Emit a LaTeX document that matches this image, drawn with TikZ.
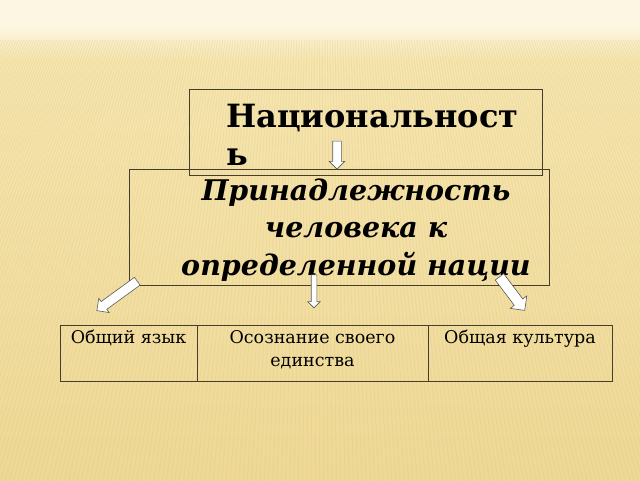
\documentclass[tikz,border=0pt]{standalone}
\usepackage{fontspec}
\setmainfont{DejaVu Serif}
\usetikzlibrary{shapes.arrows}
\definecolor{bgtop}{RGB}{253,246,226}
\definecolor{bgmid}{RGB}{246,230,178}
\definecolor{bgbot}{RGB}{238,216,150}
\definecolor{stripe}{RGB}{226,200,120}
\definecolor{boxline}{RGB}{70,62,45}
\definecolor{arrline}{RGB}{90,90,90}
\tikzset{
  frame/.style={draw=boxline, line width=0.9pt},
  barrow/.style={single arrow, draw=arrline, fill=white, line width=0.6pt,
    inner xsep=0pt, single arrow head indent=0pt, anchor=center},
  celltext/.style={font=\fontsize{17.5}{23}\selectfont, align=center, inner sep=0pt, anchor=base},
}
\begin{document}
\begin{tikzpicture}[x=1pt,y=-1pt]
\useasboundingbox (0,0) rectangle (640,480);
% background
\shade[top color=bgmid, bottom color=bgbot] (0,60) rectangle (640,480);
\shade[top color=bgtop, bottom color=bgmid] (0,25) rectangle (640,60);
\fill[bgtop] (0,0) rectangle (640,25);
\foreach \i in {-80,...,270} {
  \draw[stripe, opacity=0.3, line width=0.9pt]
    ({320+(\i*3.4-320)*0.75},40) -- ({320+(\i*3.4-320)*1.25},480);
}
% box 2 (back)
\node[frame, minimum width=420, minimum height=116, anchor=north west, inner sep=0pt] (b2) at (129,169) {};
% box 1
\node[frame, minimum width=353, minimum height=86, anchor=north west, inner sep=0pt] (b1) at (189,89) {};
% texts (base anchor = last line)
\node[anchor=base west, inner sep=0pt, align=left,
  font=\fontsize{32}{38}\selectfont\bfseries] (t1) at (226,165) {Национальност\\ь};
\node[anchor=base, inner sep=0pt, align=center,
  font=\fontsize{28.5}{37.5}\selectfont\bfseries\itshape] (t2) at (356,275)
  {Принадлежность\\человека к\\определенной нации};
% table
\node[frame, minimum width=552, minimum height=56, anchor=north west, inner sep=0pt] (tab) at (60,325) {};
\coordinate (d1t) at (197,325); \coordinate (d1b) at (197,381);
\coordinate (d2t) at (428,325); \coordinate (d2b) at (428,381);
\draw[frame] (d1t) -- (d1b);
\draw[frame] (d2t) -- (d2b);
\node[celltext] (c1) at (128.5,343) {Общий язык};
\node[celltext] (c2) at (312.5,366) {Осознание своего\\единства};
\node[celltext] (c3) at (520,343) {Общая культура};
% block arrows
\node[barrow, rotate=-90, minimum height=28, minimum width=15,
  inner ysep=4pt, single arrow head extend=3.5pt] (a0) at (337,153) {};
\node[barrow, rotate=-90, minimum height=33, minimum width=12,
  inner ysep=2.5pt, single arrow head extend=3.5pt] (a2) at (314,290) {};
\node[barrow, rotate=216, minimum height=50, minimum width=17,
  inner ysep=4.5pt, single arrow head extend=4pt] (a1) at (119,294.5) {};
\node[barrow, rotate=-53, minimum height=42, minimum width=20,
  inner ysep=5pt, single arrow head extend=5pt] (a3) at (510.5,291.5) {};
\end{tikzpicture}
\end{document}
